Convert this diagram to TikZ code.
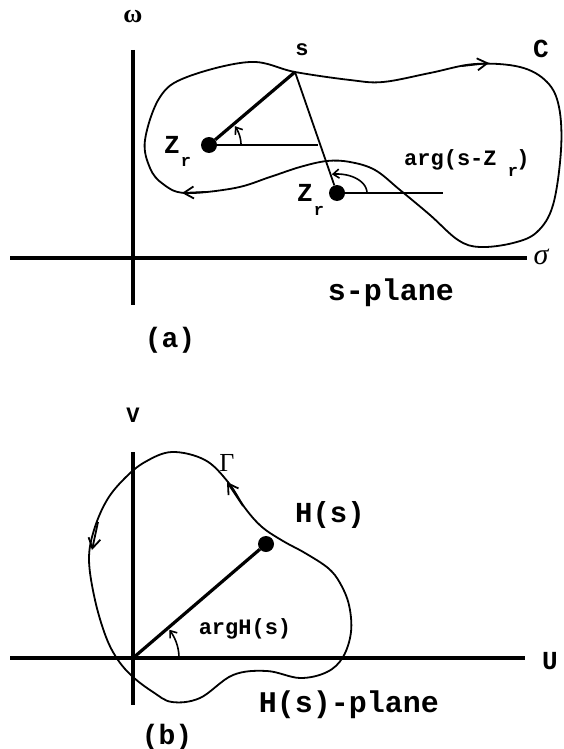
\documentclass[tikz,border=0pt]{standalone}
\usepackage{fontspec}
\setmonofont{Liberation Mono}
\newfontfamily\grk{Liberation Serif}
\usetikzlibrary{arrows.meta}
\begin{document}
\begin{tikzpicture}[x=1pt,y=-1pt,
  axis/.style={line width=4.5pt},
  curve/.style={line width=1.8pt},
  thinln/.style={line width=1.8pt},
  radial/.style={line width=3.2pt},
  dot/.style={circle,fill=black,inner sep=0pt,minimum size=16pt},
  lbl/.style={font=\ttfamily\bfseries\fontsize{22}{22}\selectfont, inner sep=0pt},
  sub/.style={font=\ttfamily\bfseries\fontsize{17}{17}\selectfont, inner sep=0pt},
  small/.style={font=\ttfamily\bfseries\fontsize{22}{22}\selectfont, inner sep=0pt},
  big/.style={font=\ttfamily\bfseries\fontsize{30}{30}\selectfont, inner sep=0pt},
  barb/.style={line width=1.8pt, -{Straight Barb[length=10pt,width=12pt]}},
  tip/.style={line width=1.6pt, -{Straight Barb[length=6pt,width=9pt]}}
]
\useasboundingbox (0,0) rectangle (564,749);

% ---------- (a) s-plane ----------
\coordinate (ax1) at (10,258);
\coordinate (ax2) at (527,258);
\coordinate (ay1) at (133,50);
\coordinate (ay2) at (133,305);
\draw[axis] (ax1) -- (ax2);
\draw[axis] (ay1) -- (ay2);

\draw[curve] plot[smooth cycle, tension=0.6] coordinates {
 (145,140) (160,97) (187,77) (250,62) (295,72) (350,80) (383,82) (430,73)
 (475,64) (520,67) (547,82) (559,107) (561,150) (553,205) (537,232) (513,243)
 (480,247) (458,240) (430,215) (400,190) (375,170) (350,162) (327,161)
 (300,167) (270,177) (235,188) (185,193) (163,184) (150,168)};
\draw[barb] (462,66) -- (489,63);
\draw[barb] (205,192) -- (182,193);

\coordinate (spt) at (295,72);
\node[dot] (z1) at (209,145) {};
\node[dot] (z2) at (337,193) {};
\coordinate (h1) at (318,145);
\coordinate (h2) at (443,193);

\draw[radial] (z1) -- (spt);
\draw[thinln] (z1) -- (h1);
\draw[thinln] (spt) -- (z2);
\draw[thinln] (z2) -- (h2);
\draw[tip] plot[domain=0:36, samples=20] ({209+32*cos(\x)},{145-32*sin(\x)});
\draw[tip] plot[domain=0:100, samples=30] ({337+30*cos(\x)},{193-19*sin(\x)});

\node[lbl] (sl) at (302,50) {s};
\node[lbl, font=\ttfamily\bfseries\fontsize{26}{26}\selectfont] (cl) at (541,49) {C};
\node[lbl, font=\grk\bfseries\fontsize{26}{26}\selectfont] (wl) at (133,17) {ω};
\node[lbl, font=\grk\itshape\fontsize{30}{30}\selectfont] (sig) at (541,257) {σ};
\node[lbl, font=\ttfamily\bfseries\fontsize{26}{26}\selectfont] (zl1) at (172,145) {Z};
\node[sub] (rl1) at (186,162) {r};
\node[lbl, font=\ttfamily\bfseries\fontsize{26}{26}\selectfont] (zl2) at (305,193) {Z};
\node[sub] (rl2) at (319,211) {r};
\node[small, anchor=west] (argl) at (404,160) {arg(s-Z};
\node[sub] (argr) at (513,172) {r};
\node[small] (argp) at (523,160) {)};
\node[big] (spl) at (391,293) {s-plane};
\node[big, font=\ttfamily\bfseries\fontsize{28}{28}\selectfont] (la) at (170,340) {(a)};

% ---------- (b) H(s)-plane ----------
\coordinate (bx1) at (10,658);
\coordinate (bx2) at (525,658);
\coordinate (by1) at (133,452);
\coordinate (by2) at (133,705);
\draw[axis] (bx1) -- (bx2);
\draw[axis] (by1) -- (by2);
\coordinate (org) at (133,658);

\draw[curve] plot[smooth cycle, tension=0.6] coordinates {
 (133,677) (153,692) (172,702) (200,698) (233,675) (267,671) (300,678)
 (327,672) (343,657) (351,632) (349,605) (340,583) (328,568) (305,553)
 (283,541) (262,527) (245,508) (228,482) (205,460) (172,452) (145,462)
 (125,478) (107,500) (94,530) (89,560) (95,600) (106,637) (118,660)};
\draw[barb] (98,522) -- (92,550);
\draw[barb] (243,506) -- (227,482);

\node[dot] (hs) at (266,544) {};
\draw[radial] (org) -- (hs);
\draw[tip] plot[domain=0:38, samples=20] ({133+46*cos(\x)},{658-46*sin(\x)});

\node[lbl] (vl) at (133,415) {V};
\node[lbl, font=\ttfamily\bfseries\fontsize{26}{26}\selectfont] (ul) at (550,661) {U};
\node[lbl, font=\grk\fontsize{26}{26}\selectfont] (gl) at (227,463) {Γ};
\node[big, font=\ttfamily\bfseries\fontsize{29}{29}\selectfont] (hsl) at (330,515) {H(s)};
\node[small] (argh) at (245,629) {argH(s)};
\node[big] (hpl) at (349,705) {H(s)-plane};
\node[big, font=\ttfamily\bfseries\fontsize{28}{28}\selectfont] (lb) at (167,737) {(b)};
\end{tikzpicture}
\end{document}
